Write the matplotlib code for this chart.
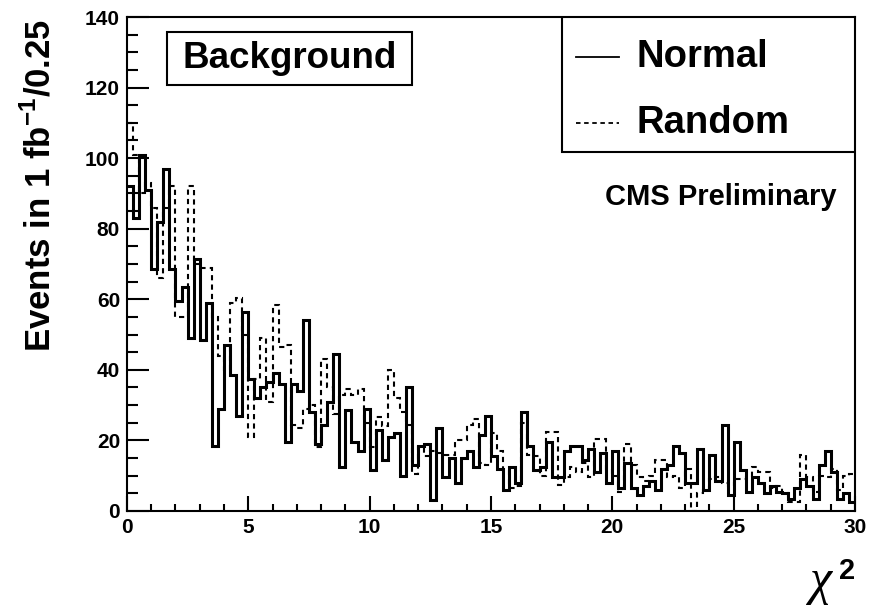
import numpy as np
import matplotlib.pyplot as plt
from matplotlib.patches import Rectangle
from matplotlib.ticker import MultipleLocator

plt.rcParams['font.family'] = ['Liberation Sans', 'DejaVu Sans']
plt.rcParams['font.weight'] = 'bold'
plt.rcParams['mathtext.fontset'] = 'custom'
plt.rcParams['mathtext.rm'] = 'Liberation Sans:bold'
plt.rcParams['mathtext.bf'] = 'Liberation Sans:bold'

# chi2 histogram, 120 bins of 0.25 between 0 and 30
edges = np.linspace(0, 30, 121)

normal = [92, 83, 101, 91, 68.5, 82, 97, 68.5, 59.5, 63.5, 49, 71.5, 48.5, 59, 18.5,
          29, 47, 38.5, 27, 56.5, 37.5, 32, 35, 36.5, 39, 36, 19.5, 36, 34, 54,
          28, 19, 24.5, 31, 44.5, 12.5, 28.5, 19.5, 17, 29, 11.5, 23, 14.5, 21, 22,
          10, 35, 13, 18.5, 19, 3, 23.5, 9.5, 15, 8, 15, 17, 12.5, 21.5, 27,
          15.5, 12, 6, 12.5, 8, 28, 18.5, 11.5, 12.5, 19.5, 9.5, 9.5, 17, 18.5, 18.5,
          14.5, 17.5, 11, 16.5, 8, 17, 6.5, 13.5, 6.5, 4.5, 7, 8.5, 6, 12, 13,
          18.5, 16.5, 8, 8, 17.5, 6, 16, 8.5, 24.5, 4.5, 19.5, 11.5, 5.5, 9.5, 8,
          5, 7, 5.5, 5, 3.5, 6.5, 9, 7, 3.5, 13, 17, 11, 3.5, 5, 2.5]

random_ = [110, 101, 90, 93, 86, 66, 86, 92, 55, 55, 92, 70, 69, 69, 55,
           44, 40, 59, 60.5, 50, 21, 37.5, 49, 31, 58.5, 46.5, 47, 24.5, 23.5, 29,
           30, 18, 43, 35, 27.5, 33, 34.5, 33, 34.5, 25, 18, 26.5, 24, 40, 32,
           28, 24.5, 10.5, 18, 15.5, 17, 16.5, 16, 16, 20, 20, 24.5, 26, 13.5, 13,
           22, 17, 11.5, 6.5, 7, 25, 16, 15.5, 10, 22.5, 22.5, 7.5, 9.5, 12.5, 11,
           13.5, 9.5, 20.5, 20.5, 12, 10, 5.5, 19, 13, 9.5, 8.5, 10, 14.5, 14.5, 9.5,
           10, 6.5, 12, 0, 5, 6, 9, 9.5, 8, 7, 9, 9, 9.5, 12.5, 11,
           11, 6.5, 7, 5, 2.5, 2.5, 16, 9.5, 5.5, 10, 9.5, 12, 6, 10, 10.5]

dash = (0, (2.5, 2))

fig = plt.figure(figsize=(8.78, 6.05), dpi=100)
ax = fig.add_axes([0.1446, 0.1554, 0.8292, 0.8165])

ax.stairs(normal, edges, color='black', lw=2.2, baseline=None)
ax.stairs(random_, edges, color='black', lw=1.5, linestyle=dash, baseline=None)

ax.set_xlim(0, 30)
ax.set_ylim(0, 140)
ax.xaxis.set_major_locator(MultipleLocator(5))
ax.xaxis.set_minor_locator(MultipleLocator(1))
ax.yaxis.set_major_locator(MultipleLocator(20))
ax.yaxis.set_minor_locator(MultipleLocator(5))
ax.tick_params(axis='both', which='both', direction='in', width=1.5, labelsize=15)
ax.tick_params(axis='x', which='major', length=11, pad=5)
ax.tick_params(axis='x', which='minor', length=5)
ax.tick_params(axis='y', which='major', length=16, pad=5)
ax.tick_params(axis='y', which='minor', length=8)
for s in ax.spines.values():
    s.set_linewidth(1.5)

# axis titles
fig.text(0.045, 0.693, 'Events in 1 fb$^{-1}$/0.25', rotation=90,
         ha='center', va='center', fontsize=25)
fig.text(0.923, 0.0, 'χ', family='Liberation Serif', style='italic',
         fontweight='normal', fontsize=36, ha='left', va='bottom')
fig.text(0.9556, 0.0793, '2', fontsize=21, ha='left', va='top')

# Background label box
ax.add_patch(Rectangle((0.0549, 0.8623), 0.3366, 0.1073, transform=ax.transAxes,
                       fill=False, lw=1.5, ec='black'))
ax.text(0.2232, 0.915, 'Background', transform=ax.transAxes,
        ha='center', va='center', fontsize=26.5)

# legend
ax.add_patch(Rectangle((0.5975, 0.7267), 0.4025, 0.2733, transform=ax.transAxes,
                       fc='white', lw=1.5, ec='black', zorder=3))
ax.plot([0.6168, 0.6758], [0.919, 0.919], color='black', lw=1.3,
        transform=ax.transAxes, zorder=4)
ax.plot([0.6168, 0.6758], [0.7854, 0.7854], color='black', lw=1.3, linestyle=dash,
        transform=ax.transAxes, zorder=4)
ax.text(0.7005, 0.919, 'Normal', transform=ax.transAxes, ha='left', va='center',
        fontsize=27.5, zorder=4)
ax.text(0.7005, 0.7854, 'Random', transform=ax.transAxes, ha='left', va='center',
        fontsize=27.5, zorder=4)

ax.text(0.6566, 0.6356, 'CMS Preliminary', transform=ax.transAxes, ha='left',
        va='center', fontsize=21)

fig.savefig('out.png', dpi=100, facecolor='white')
